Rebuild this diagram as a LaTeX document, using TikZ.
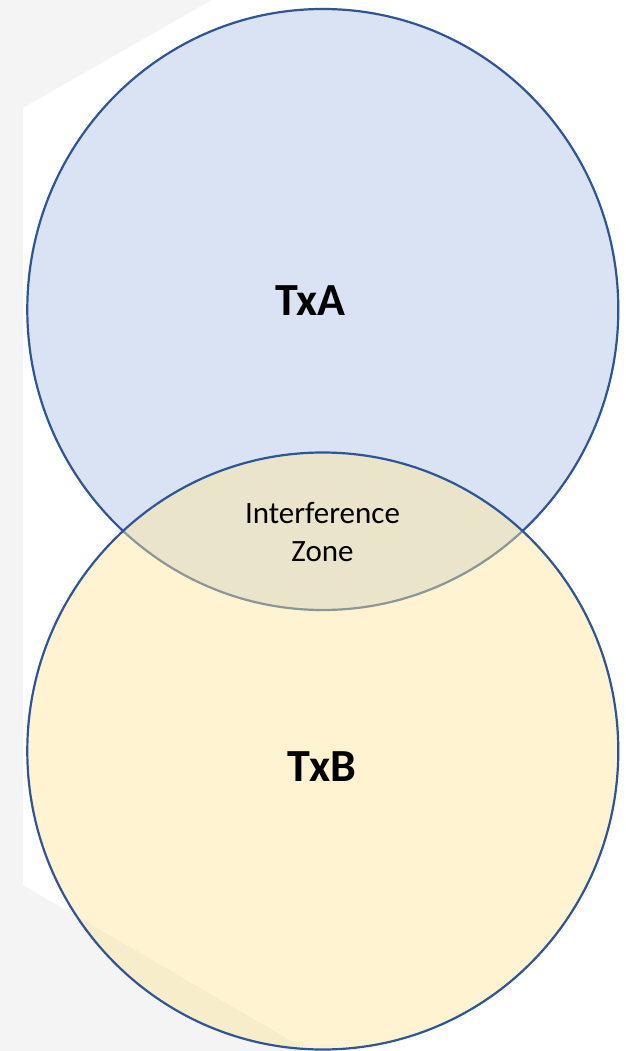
\documentclass[tikz,border=0pt]{standalone}
\usepackage{fontspec}
\setmainfont{Carlito}
\usetikzlibrary{shapes.geometric}
\definecolor{pagegray}{HTML}{F4F4F4}
\definecolor{rimblue}{HTML}{2F5597}
\definecolor{fillA}{HTML}{DAE3F3}
\definecolor{fillB}{HTML}{FFE699}
\tikzset{
  zone/.style={ellipse, draw=rimblue, line width=2.2pt, inner sep=0pt,
    minimum width=591pt},
  biglabel/.style={inner sep=0pt, anchor=base,
    font=\fontsize{46}{55}\selectfont\bfseries},
  smalllabel/.style={inner sep=0pt, anchor=base, align=center,
    font=\fontsize{31}{38}\selectfont},
}
\begin{document}
\begin{tikzpicture}[x=1pt, y=-1pt]
  \useasboundingbox (0,0) rectangle (625,1051);
  % page backdrop with the white hexagonal sheet
  \fill[pagegray] (0,0) rectangle (625,1051);
  \fill[white] (23,108) -- (212,0) -- (625,0) -- (625,1051)
               -- (309,1051) -- (23,885) -- cycle;
  % coverage areas of the two transmitters
  \node (A) [zone, fill=fillA, minimum height=601pt] at (322.8,309.5) {};
  \node (B) [zone, fill=fillB, fill opacity=0.45, draw opacity=1,
             minimum height=597pt] at (322.8,751) {};
  % labels (base anchor sits on the last line)
  \node (la) [biglabel] at (310.5,315) {TxA};
  \node (lb) [biglabel] at (322,781) {TxB};
  \node (lz) [smalllabel] at (322.5,561) {Interference\\Zone};
\end{tikzpicture}
\end{document}
